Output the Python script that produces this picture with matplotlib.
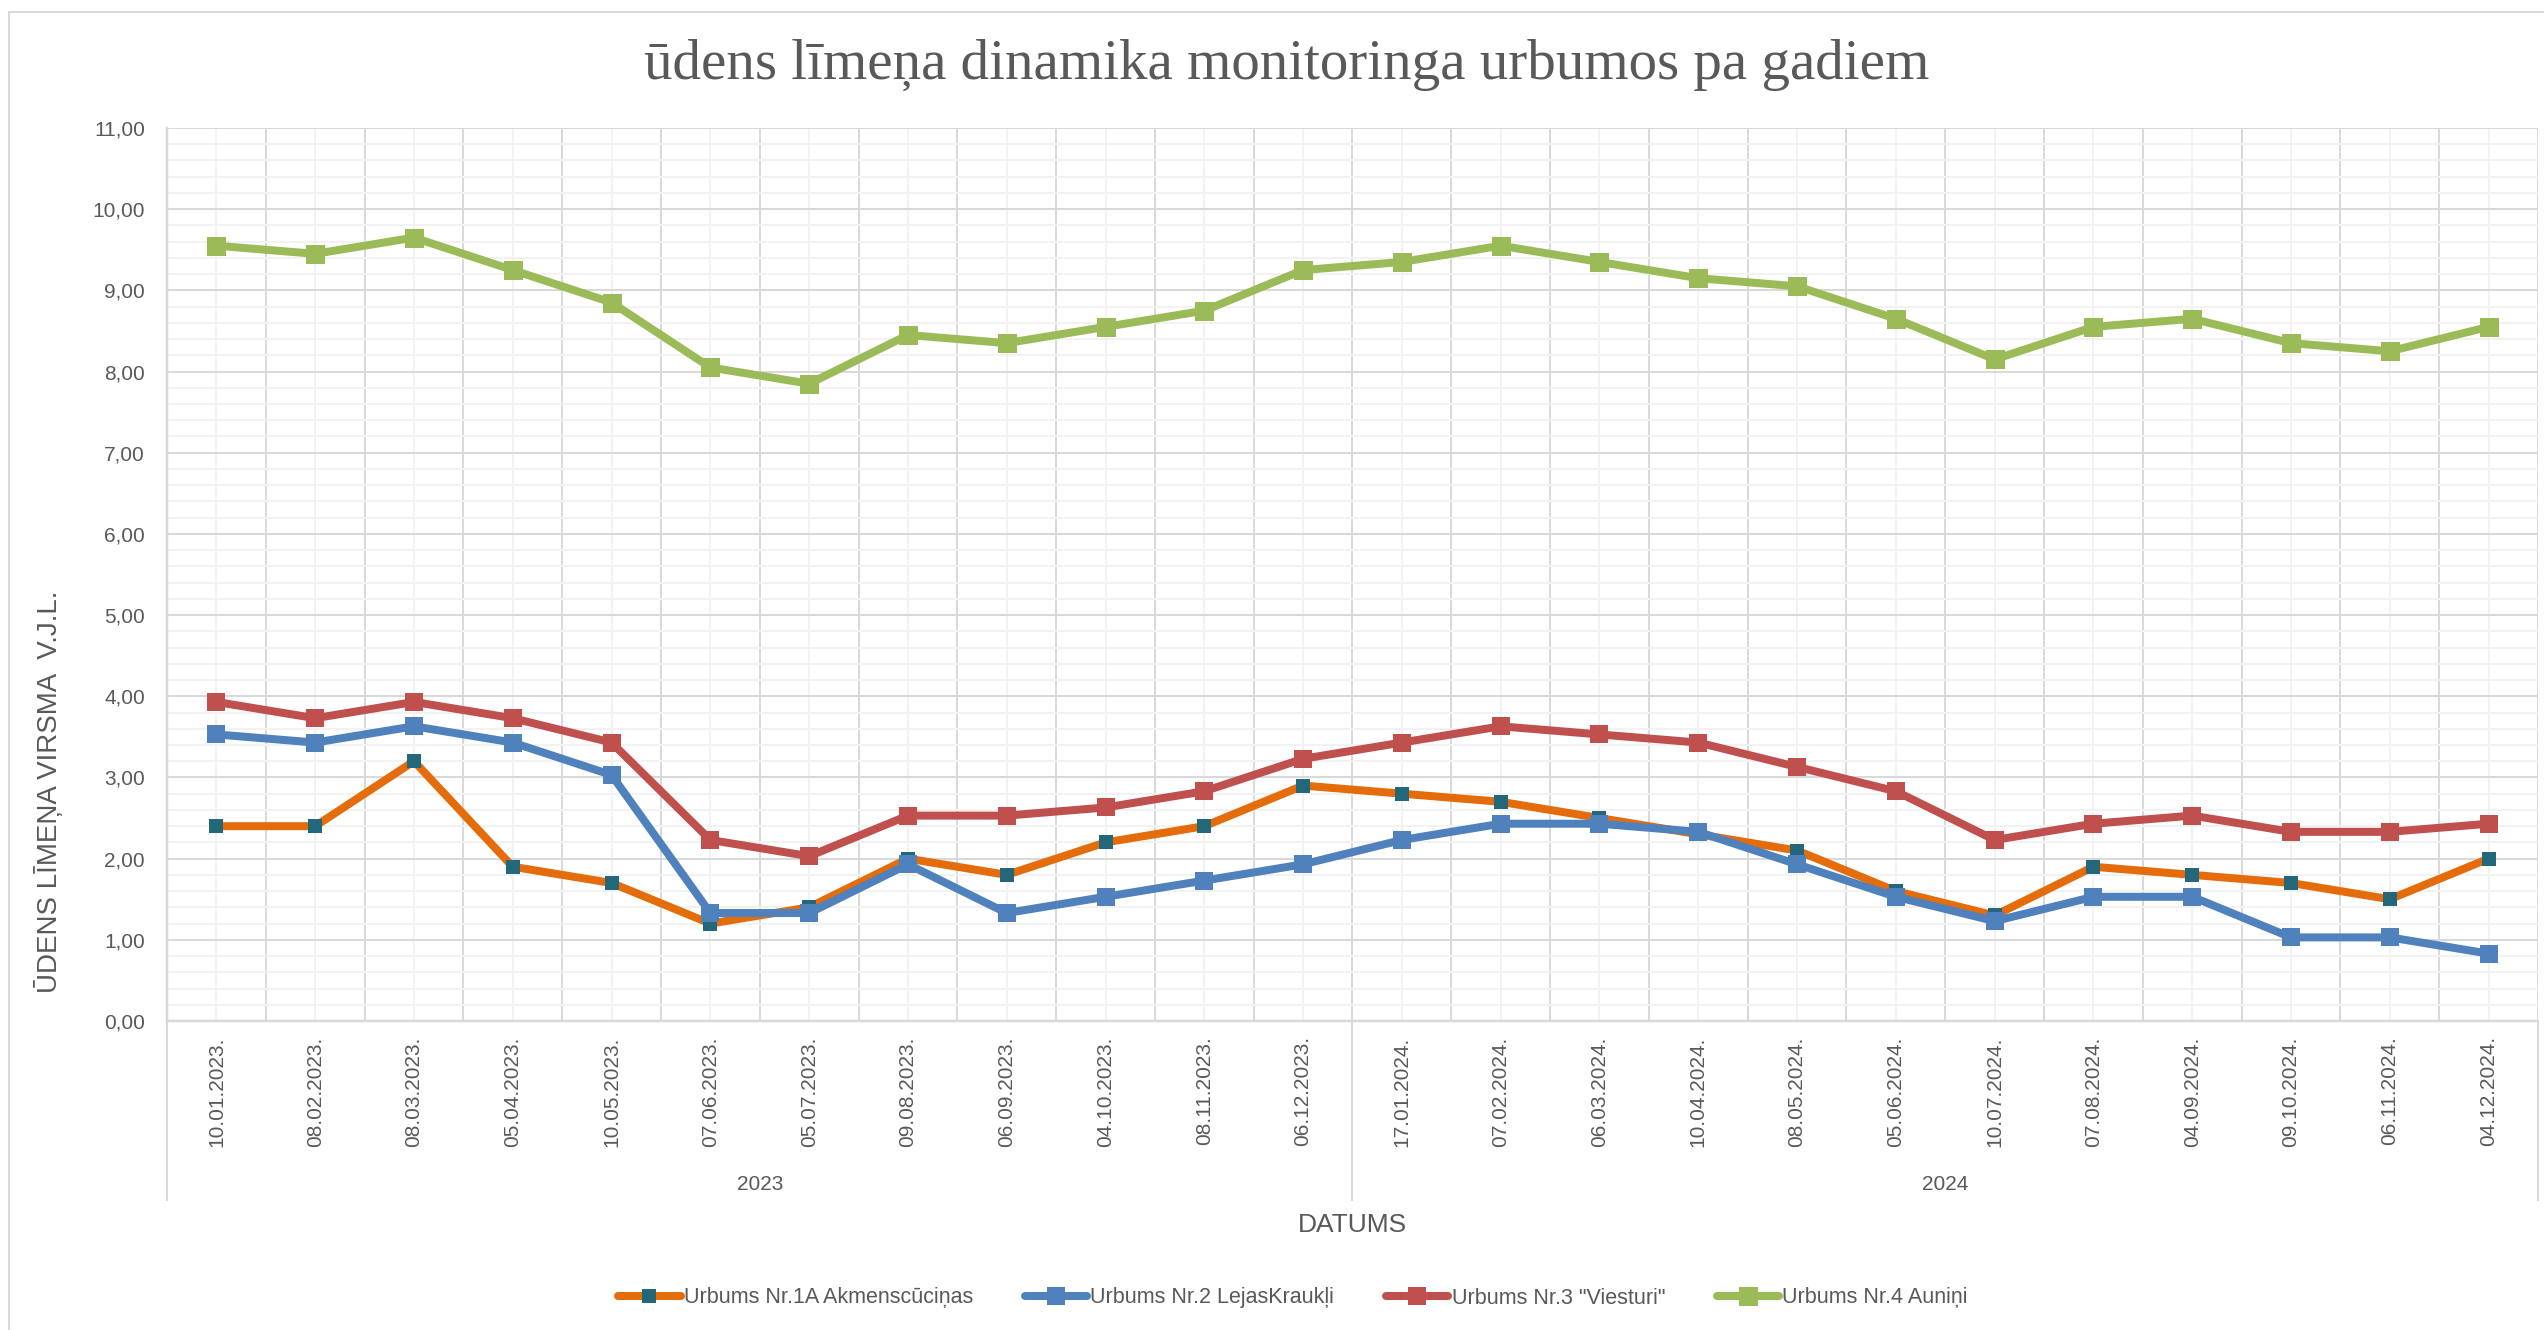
#!/usr/bin/env python3
"""Ūdens līmeņa dinamika monitoringa urbumos (2023-2024)."""

import matplotlib

matplotlib.use("Agg")

import matplotlib.pyplot as plt
import numpy as np
from matplotlib.lines import Line2D
from matplotlib.ticker import FixedLocator, MultipleLocator

plt.rcParams["font.family"] = ["Liberation Sans", "DejaVu Sans"]

# ---- data ---------------------------------------------------------------

DATES = [
    "10.01.2023.", "08.02.2023.", "08.03.2023.", "05.04.2023.", "10.05.2023.",
    "07.06.2023.", "05.07.2023.", "09.08.2023.", "06.09.2023.", "04.10.2023.",
    "08.11.2023.", "06.12.2023.",
    "17.01.2024.", "07.02.2024.", "06.03.2024.", "10.04.2024.", "08.05.2024.",
    "05.06.2024.", "10.07.2024.", "07.08.2024.", "04.09.2024.", "09.10.2024.",
    "06.11.2024.", "04.12.2024.",
]
YEARS = ["2023", "2024"]
YEAR_COUNTS = [12, 12]

URBUMS_1A = [2.40, 2.40, 3.20, 1.90, 1.70, 1.20, 1.40, 2.00, 1.80, 2.20, 2.40, 2.90,
             2.80, 2.70, 2.50, 2.30, 2.10, 1.60, 1.30, 1.90, 1.80, 1.70, 1.50, 2.00]
URBUMS_2 = [3.53, 3.43, 3.63, 3.43, 3.03, 1.33, 1.33, 1.93, 1.33, 1.53, 1.73, 1.93,
            2.23, 2.43, 2.43, 2.33, 1.93, 1.53, 1.23, 1.53, 1.53, 1.03, 1.03, 0.83]
URBUMS_3 = [3.93, 3.73, 3.93, 3.73, 3.43, 2.23, 2.03, 2.53, 2.53, 2.63, 2.83, 3.23,
            3.43, 3.63, 3.53, 3.43, 3.13, 2.83, 2.23, 2.43, 2.53, 2.33, 2.33, 2.43]
URBUMS_4 = [9.55, 9.45, 9.65, 9.25, 8.85, 8.05, 7.85, 8.45, 8.35, 8.55, 8.75, 9.25,
            9.35, 9.55, 9.35, 9.15, 9.05, 8.65, 8.15, 8.55, 8.65, 8.35, 8.25, 8.55]

SERIES = [
    ("Urbums Nr.1A Akmenscūciņas", URBUMS_1A, "#E46C0A", "#23687A", 14),
    ("Urbums Nr.2 LejasKraukļi", URBUMS_2, "#4F81BD", "#4F81BD", 18),
    ("Urbums Nr.3 \"Viesturi\"", URBUMS_3, "#C0504D", "#C0504D", 18),
    ("Urbums Nr.4 Auniņi", URBUMS_4, "#9BBB59", "#9BBB59", 19),
]

TEXT = "#595959"
GRID_MAJOR = "#D9D9D9"
GRID_MINOR = "#F2F2F2"

W, H = 2544, 1330
PX = 72 / 100  # pixel -> point at dpi 100


def fx(px):
    return px / W


def fy(py):
    return 1 - py / H


fig = plt.figure(figsize=(W / 100, H / 100), dpi=100)

# outer chart border (only top and left are inside the picture)
fig.add_artist(Line2D([fx(9), 1], [fy(12), fy(12)], color=GRID_MAJOR, lw=2 * PX))
fig.add_artist(Line2D([fx(9), fx(9)], [fy(12), 0], color=GRID_MAJOR, lw=2 * PX))

ax = fig.add_axes([fx(167), fy(1021), fx(2538) - fx(167), fy(128) - fy(1021)])

x = np.arange(len(DATES))
for label, vals, color, mcolor, msize in SERIES:
    ax.plot(x, vals, color=color, lw=8 * PX, marker="s", ms=msize * PX,
            mfc=mcolor, mec=mcolor, mew=0, label=label,
            solid_joinstyle="round", solid_capstyle="round", zorder=3)

ax.set_xlim(-0.5, len(DATES) - 0.5)
ax.set_ylim(0, 11)

ax.yaxis.set_major_locator(MultipleLocator(1))
ax.yaxis.set_minor_locator(MultipleLocator(0.2))
ax.set_yticklabels([f"{v:.2f}".replace(".", ",") for v in ax.get_yticks()])

ax.xaxis.set_major_locator(FixedLocator(np.arange(-0.5, len(DATES), 1.0)))
ax.xaxis.set_minor_locator(FixedLocator(x))
ax.set_xticklabels([])
ax.set_xticklabels(DATES, minor=True, rotation=90, va="top", ha="center")

ax.grid(which="major", color=GRID_MAJOR, lw=2 * PX, zorder=0)
ax.grid(which="minor", color=GRID_MINOR, lw=2 * PX, zorder=0)
ax.set_axisbelow(True)

ax.tick_params(which="both", length=0, colors=TEXT, labelsize=15)
ax.tick_params(axis="y", pad=16)
ax.tick_params(axis="x", which="minor", pad=11)

for side in ("top", "right"):
    ax.spines[side].set_visible(False)
for side in ("left", "bottom"):
    ax.spines[side].set_color(GRID_MAJOR)
    ax.spines[side].set_linewidth(2.5 * PX)

# year groups below the date labels
tr = ax.get_xaxis_transform()
bottom = -(1200 - 1021) / (1021 - 128)
year_y = -(1184 - 1021) / (1021 - 128)
edge = -0.5
for year, n in zip(YEARS, YEAR_COUNTS):
    ax.plot([edge, edge], [0, bottom], transform=tr, color=GRID_MAJOR,
            lw=2 * PX, clip_on=False)
    ax.text(edge + n / 2, year_y, year, transform=tr, ha="center", va="center",
            fontsize=15, color=TEXT)
    edge += n
ax.plot([edge, edge], [0, bottom], transform=tr, color=GRID_MAJOR,
        lw=2 * PX, clip_on=False)

fig.text(fx(1287), fy(65), "ūdens līmeņa dinamika monitoringa urbumos pa gadiem",
         ha="center", va="center", fontsize=41, color=TEXT,
         family=["Liberation Serif", "DejaVu Serif"])
fig.text(fx(49), fy(792), "ŪDENS LĪMEŅA VIRSMA  V.J.L.", rotation=90,
         ha="center", va="center", fontsize=20, color=TEXT)
fig.text(fx(1352), fy(1225), "DATUMS", ha="center", va="center",
         fontsize=19, color=TEXT)

fig.legend(loc="center", bbox_to_anchor=(fx(1293), fy(1298)), ncol=4,
           frameon=False, fontsize=15.5, labelcolor=TEXT, handlelength=2.9,
           handletextpad=0.15, columnspacing=2.4, numpoints=1)

fig.savefig("out.png", dpi=100, facecolor="white")
